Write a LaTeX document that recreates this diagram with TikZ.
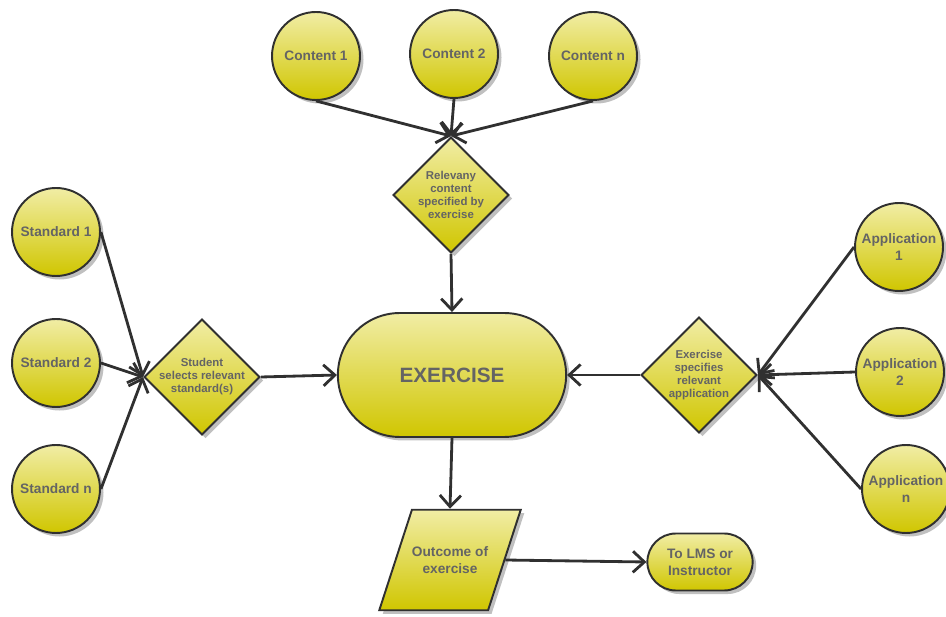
\documentclass[tikz,border=0pt]{standalone}
\usepackage{fontspec}
\setmainfont{Liberation Sans}
\usetikzlibrary{shapes.geometric,shapes.misc,shadows,arrows.meta}
\definecolor{ylight}{RGB}{241,237,165}
\definecolor{ydark}{RGB}{208,198,0}
\definecolor{edge}{RGB}{48,48,48}
\definecolor{txt}{RGB}{100,100,100}

\begin{document}
\begin{tikzpicture}[x=0.02cm,y=-0.02cm,
	box/.style={draw=edge,line width=1.1pt,top color=ylight,bottom color=ydark,text=txt,align=center,
		drop shadow={shadow xshift=2pt,shadow yshift=-2pt,fill=black!45,opacity=0.55}},
	blob/.style={box,circle,inner sep=0pt,minimum size=1.76cm,font=\fontsize{7.8}{9.5}\selectfont\bfseries},
	choice/.style={box,diamond,aspect=1,inner sep=-4pt,minimum width=2.32cm,minimum height=2.32cm,font=\fontsize{6.5}{7.4}\selectfont\bfseries},
	flow/.style={draw=edge,line width=1.6pt,-{Straight Barb[length=6.5pt,width=12pt]}}]
		\useasboundingbox (0,0) rectangle (946,617);
		\node[blob] (c1) at (316,56) {Content 1};
		\node[blob] (c2) at (454,54) {Content 2};
		\node[blob] (cn) at (593,56) {Content n};
		\node[choice] (rel) at (451,195) {Relevany\\content\\specified by\\exercise};
		\node[blob] (s1) at (56,232) {Standard 1};
		\node[blob] (s2) at (56,363) {Standard 2};
		\node[blob] (sn) at (56,489) {Standard n};
		\node[choice] (sel) at (202,377) {Student\\selects relevant\\standard(s)};
		\node[box,rounded rectangle,minimum width=4.8cm,minimum height=2.48cm,font=\fontsize{11.8}{14}\selectfont\bfseries] (ex) at (452,375) {EXERCISE};
		\node[choice] (spec) at (699,375) {Exercise\\specifies\\relevant\\application};
		\node[blob] (a1) at (899,247) {Application\\1};
		\node[blob] (a2) at (900,372) {Application\\2};
		\node[blob] (an) at (906,489) {Application\\n};
		\node[box,trapezium,trapezium left angle=72,trapezium right angle=108,inner xsep=0pt,inner ysep=21pt,font=\fontsize{7.8}{9.5}\selectfont\bfseries] (out) at (450,560) {Outcome of\\exercise};
		\node[box,rounded rectangle,minimum width=2.34cm,minimum height=1.14cm,font=\fontsize{7.8}{9.5}\selectfont\bfseries] (lms) at (700,562) {To LMS or\\Instructor};
		\draw[flow] (c1.south) -- (rel.north);
		\draw[flow] (c2.south) -- (rel.north);
		\draw[flow] (cn.south) -- (rel.north);
		\draw[flow] (rel.south) -- (ex.north);
		\draw[flow] (s1.east) -- (sel.west);
		\draw[flow] (s2.east) -- (sel.west);
		\draw[flow] (sn.east) -- (sel.west);
		\draw[flow] (sel.east) -- (ex.west);
		\draw[flow] (a1.west) -- (spec.east);
		\draw[flow] (a2.west) -- (spec.east);
		\draw[flow] (an.west) -- (spec.east);
		\draw[flow] (spec.west) -- (ex.east);
		\draw[flow] (ex.south) -- (out.north);
		\draw[flow] (out.east) -- (lms.west);
\end{tikzpicture}
\end{document}
